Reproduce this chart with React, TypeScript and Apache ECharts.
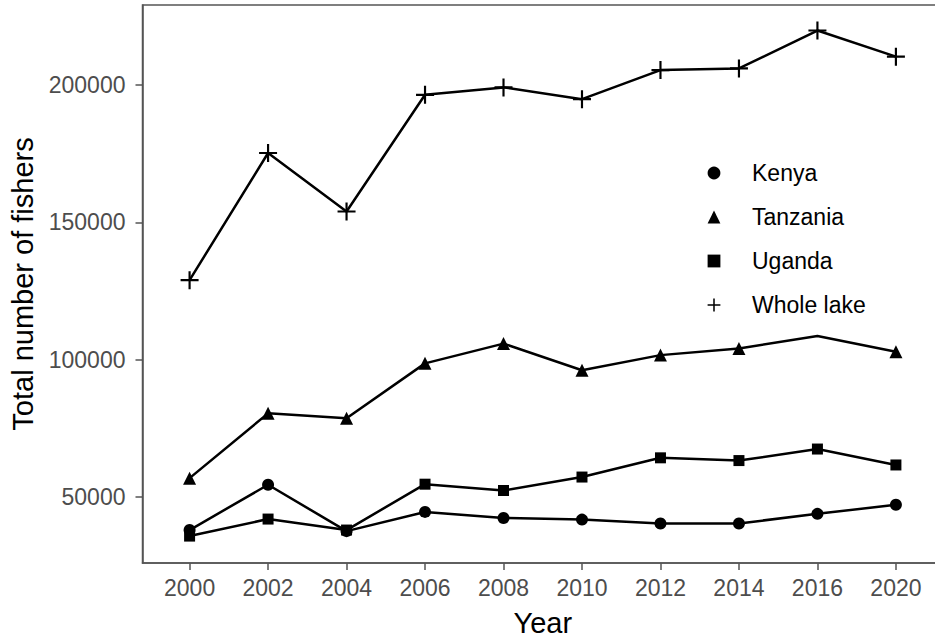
import React, { useEffect, useRef } from "react";
import * as echarts from "echarts";

// Survey years (2018 is absent from the series)
const years = ["2000", "2002", "2004", "2006", "2008", "2010", "2012", "2014", "2016", "2020"];

// Total number of fishers per survey
const kenya = [38000, 54500, 37600, 44600, 42400, 41800, 40400, 40400, 43900, 47200];
const tanzania = [56900, 80500, 78700, 98700, 105900, 96200, 101700, 104100, 108700, 102900];
const uganda = [35800, 42000, 38000, 54700, 52400, 57300, 64300, 63300, 67500, 61700];
const wholeLake = [129000, 175300, 154000, 196500, 199200, 194900, 205500, 206100, 219900, 210400];

const yTicks = [50000, 100000, 150000, 200000];

const FONT = "'Liberation Sans', Arial, sans-serif";
const PLUS = "path://M0,4.4H10V5.6H0Z M4.4,0H5.6V10H4.4Z";
const AXIS_GREY = "#555";

const toPoints = (vals: number[]) => vals.map((v, i) => [i, v]);

export default function App() {
  const ref = useRef<HTMLDivElement>(null);

  useEffect(() => {
    if (!ref.current) return;
    const chart = echarts.init(ref.current, undefined, { renderer: "svg" });
    const idx = years.map((_, i) => i);

    const lineSeries = (name: string, data: any[], symbol: string, size: number) => ({
      name,
      type: "line",
      data,
      symbol,
      symbolSize: size,
      showSymbol: true,
      lineStyle: { color: "#000", width: 2.5 },
      itemStyle: { color: "#000", borderWidth: 0 },
      emphasis: { disabled: true },
      z: 3,
    });

    // The 2016 Tanzania point has no marker drawn
    const tanzaniaData = tanzania.map((v, i) =>
      i === 8 ? { value: [i, v], symbol: "none" } : { value: [i, v] }
    );

    const axisLine = { show: true, onZero: false, lineStyle: { color: AXIS_GREY, width: 1.5 } };

    chart.setOption({
      animation: false,
      backgroundColor: "#fff",
      textStyle: { fontFamily: FONT },
      grid: {
        left: 142.5,
        right: 8,
        top: 5,
        bottom: 77,
        show: true,
        borderColor: AXIS_GREY,
        borderWidth: 1.5,
        backgroundColor: "transparent",
      },
      xAxis: {
        type: "value",
        min: -0.6,
        max: 9.6,
        name: "Year",
        nameLocation: "middle",
        nameGap: 45,
        nameTextStyle: { fontSize: 29, color: "#000", fontFamily: FONT },
        axisLine,
        splitLine: { show: false },
        axisTick: { show: true, length: 7, lineStyle: { color: AXIS_GREY, width: 1.5 }, customValues: idx },
        axisLabel: {
          customValues: idx,
          formatter: (v: number) => years[Math.round(v)] ?? "",
          fontSize: 23,
          color: "#4d4d4d",
          margin: 13,
          fontFamily: FONT,
        },
      },
      yAxis: {
        type: "value",
        min: 26000,
        max: 229200,
        name: "Total number of fishers",
        nameLocation: "middle",
        nameGap: 97,
        nameTextStyle: { fontSize: 29, color: "#000", fontFamily: FONT },
        axisLine,
        splitLine: { show: false },
        axisTick: { show: true, length: 7, lineStyle: { color: AXIS_GREY, width: 1.5 }, customValues: yTicks },
        axisLabel: {
          customValues: yTicks,
          formatter: (v: number) => String(v),
          fontSize: 23,
          color: "#4d4d4d",
          margin: 17,
          fontFamily: FONT,
        },
      },
      legend: {
        orient: "vertical",
        left: 680,
        top: 161,
        itemWidth: 66,
        itemHeight: 16,
        itemGap: 20,
        padding: 0,
        selectedMode: false,
        lineStyle: { opacity: 0 },
        textStyle: { fontSize: 23, color: "#000", fontFamily: FONT, lineHeight: 24 },
        data: ["Kenya", "Tanzania", "Uganda", "Whole lake"],
      },
      series: [
        lineSeries("Kenya", toPoints(kenya), "circle", 12),
        lineSeries("Tanzania", tanzaniaData, "triangle", 13),
        lineSeries("Uganda", toPoints(uganda), "rect", 11),
        lineSeries("Whole lake", toPoints(wholeLake), PLUS, 18),
      ],
    });

    return () => chart.dispose();
  }, []);

  // The plot panel runs past the right edge of the 935px frame
  return (
    <div style={{ position: "absolute", left: 0, top: 0, width: 935, height: 642, overflow: "hidden", background: "#fff" }}>
      <div ref={ref} style={{ width: 951, height: 642 }} />
    </div>
  );
}
